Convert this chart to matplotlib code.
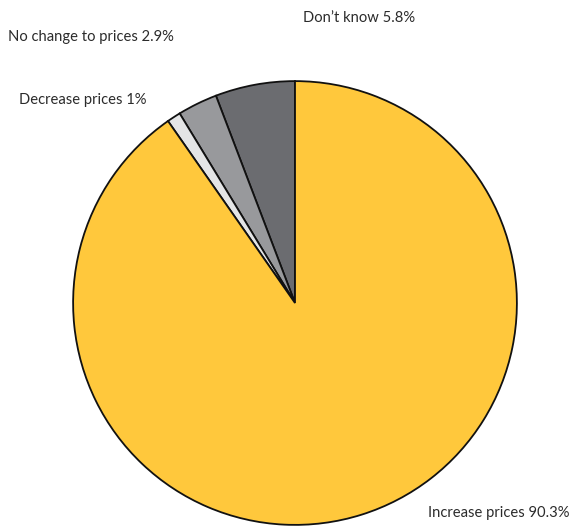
import matplotlib
matplotlib.use("Agg")
import matplotlib.pyplot as plt

# survey answers, counter-clockwise from twelve o'clock
labels = ["Don\u2019t know", "No change to prices", "Decrease prices", "Increase prices"]
shares = [5.8, 2.9, 1.0, 90.3]
colors = ["#6b6c70", "#98999c", "#e4e5e6", "#ffc83c"]

W, H = 571, 526
fig = plt.figure(figsize=(W / 100, H / 100), dpi=100)

# pie box in pixels: left, top, diameter
px_left, px_top, diam = 72, 80, 446
ax = fig.add_axes([px_left / W, 1 - (px_top + diam) / H, diam / W, diam / H])
ax.pie(shares, colors=colors, startangle=90, counterclock=True,
       radius=1.0, wedgeprops=dict(edgecolor="#111111", linewidth=1.3))
ax.set_xlim(-1.005, 1.005)
ax.set_ylim(-1.005, 1.005)
ax.set_aspect("equal")
ax.axis("off")

# label anchors (left edge, vertical centre) in pixels
label_pos = [(303, 18), (8, 37), (19, 100), (428, 513)]
for name, val, (x, y) in zip(labels, shares, label_pos):
    txt = f"{name} {val:g}%"
    fig.text(x / W, 1 - y / H, txt, ha="left", va="center",
             fontsize=10.6, family="Lato", color="#2b2b2b")

fig.savefig("out.png", dpi=100)
